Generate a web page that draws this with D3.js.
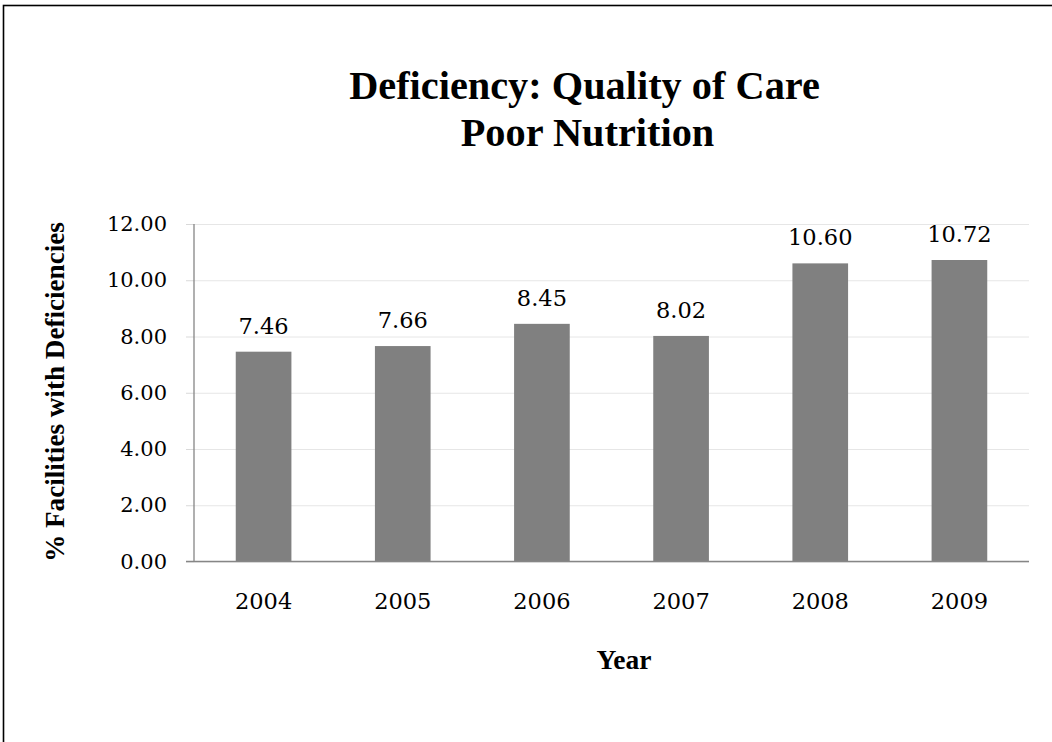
<!DOCTYPE html>
<html>
<head>
<meta charset="utf-8">
<script src="https://cdn.jsdelivr.net/npm/d3@7"></script>
<style>
  html, body { margin: 0; padding: 0; background: #fff; }
  svg { display: block; }
</style>
</head>
<body>
<svg id="chart" width="1052" height="742"></svg>
<script>
const categories = ["2004", "2005", "2006", "2007", "2008", "2009"];
const values = [7.46, 7.66, 8.45, 8.02, 10.60, 10.72];
const yTicks = [0, 2, 4, 6, 8, 10, 12];
const titleLines = ["Deficiency: Quality of Care", "Poor Nutrition"];
const yAxisTitle = "% Facilities with Deficiencies";
const xAxisTitle = "Year";

const FONT = "'DejaVu Serif', 'Liberation Serif', serif";
const BOLDFONT = "'Liberation Serif', 'DejaVu Serif', serif";
const svg = d3.select("#chart");

// frame (only top and left edges visible)
svg.append("rect")
  .attr("x", 3.5).attr("y", 5.5)
  .attr("width", 1200).attr("height", 900)
  .attr("fill", "none").attr("stroke", "#000").attr("stroke-width", 1.6);

const plot = { left: 194, right: 1029, top: 224, bottom: 561.5 };

const x = d3.scaleBand()
  .domain(categories)
  .range([plot.left, plot.right])
  .paddingInner(0.6)
  .paddingOuter(0.3);

const y = d3.scaleLinear()
  .domain([0, 12])
  .range([plot.bottom, plot.top]);

// gridlines
const grid = svg.append("g")
  .attr("transform", `translate(${plot.left},0)`)
  .call(d3.axisLeft(y).tickValues(yTicks).tickSize(-(plot.right - plot.left)).tickFormat(""));
grid.select(".domain").remove();
grid.selectAll(".tick line").attr("stroke", "#e6e6e6").attr("stroke-width", 1);

// tick marks + labels
const tickMarks = svg.append("g")
  .attr("transform", `translate(${plot.left},0)`)
  .call(d3.axisLeft(y).tickValues(yTicks).tickSize(8).tickPadding(19).tickFormat(d3.format(".2f")));
tickMarks.select(".domain").remove();
tickMarks.selectAll(".tick line").attr("stroke", "#d9d9d9");
tickMarks.selectAll(".tick text")
  .attr("font-family", FONT).attr("font-size", 21).attr("fill", "#000");

// bars
svg.append("g").selectAll("rect")
  .data(values)
  .join("rect")
  .attr("x", (d, i) => x(categories[i]))
  .attr("y", d => y(d))
  .attr("width", x.bandwidth())
  .attr("height", d => y(0) - y(d))
  .attr("fill", "#808080");

// axis lines
svg.append("line")
  .attr("x1", plot.left).attr("x2", plot.left)
  .attr("y1", plot.top).attr("y2", plot.bottom)
  .attr("stroke", "#868686").attr("stroke-width", 1.3);
svg.append("line")
  .attr("x1", plot.left - 8).attr("x2", plot.right)
  .attr("y1", plot.bottom).attr("y2", plot.bottom)
  .attr("stroke", "#868686").attr("stroke-width", 1.3);

// x labels
const xAxis = svg.append("g")
  .attr("transform", `translate(0,${plot.bottom})`)
  .call(d3.axisBottom(x).tickSize(0).tickPadding(32));
xAxis.select(".domain").remove();
xAxis.selectAll(".tick text")
  .attr("font-family", FONT).attr("font-size", 22.5).attr("fill", "#000");

// data labels
svg.append("g").selectAll("text")
  .data(values)
  .join("text")
  .attr("x", (d, i) => x(categories[i]) + x.bandwidth() / 2)
  .attr("y", d => y(d) - 18)
  .attr("text-anchor", "middle")
  .attr("font-family", FONT).attr("font-size", 22.5).attr("fill", "#000")
  .text(d => d3.format(".2f")(d));

// helper: fit bold text to a target width
function fitText(sel, target) {
  const w = sel.node().getComputedTextLength();
  const s = parseFloat(sel.attr("font-size"));
  const ns = s * target / w;
  sel.attr("font-size", ns);
  return ns;
}

// title
const t0 = svg.append("text")
  .attr("font-family", BOLDFONT).attr("font-weight", "bold").attr("font-size", 40)
  .attr("text-anchor", "middle")
  .attr("x", 584.5).attr("y", 99)
  .text(titleLines[0]);
const titleSize = fitText(t0, 471);
svg.append("text")
  .attr("font-family", BOLDFONT).attr("font-weight", "bold").attr("font-size", titleSize)
  .attr("text-anchor", "middle")
  .attr("x", 587.5).attr("y", 146)
  .text(titleLines[1]);

// axis titles
const yt = svg.append("text")
  .attr("transform", `translate(64,392) rotate(-90)`)
  .attr("text-anchor", "middle")
  .attr("font-family", BOLDFONT).attr("font-weight", "bold").attr("font-size", 22)
  .text(yAxisTitle);
fitText(yt, 340);

const xt = svg.append("text")
  .attr("x", 624).attr("y", 669)
  .attr("text-anchor", "middle")
  .attr("font-family", BOLDFONT).attr("font-weight", "bold").attr("font-size", 22)
  .text(xAxisTitle);
fitText(xt, 55);
</script>
</body>
</html>
